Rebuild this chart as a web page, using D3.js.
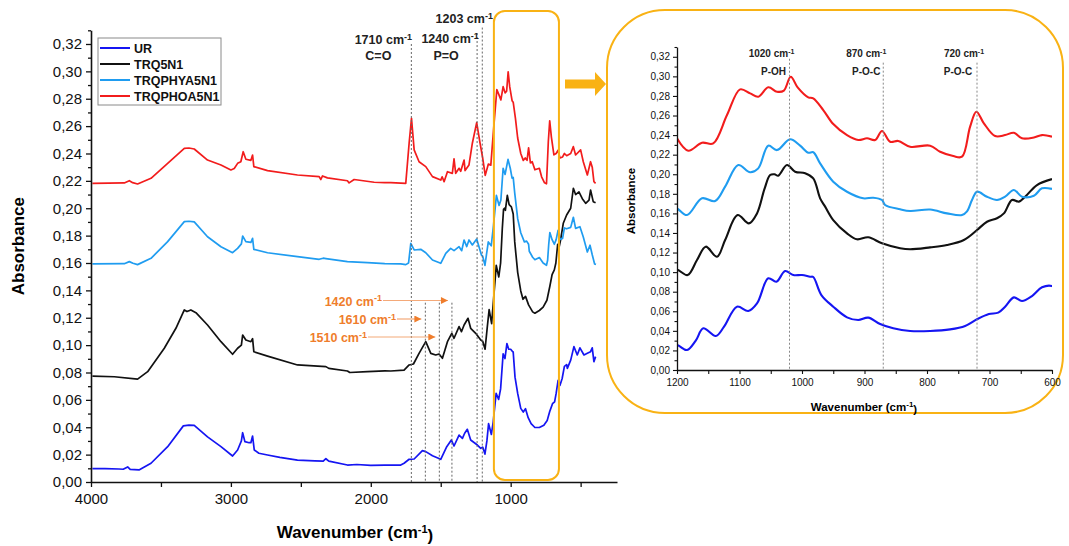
<!DOCTYPE html>
<html>
<head>
<meta charset="utf-8">
<script src="https://cdn.jsdelivr.net/npm/d3@7"></script>
<style>
  body { margin: 0; background: #fff; }
  svg text { font-family: Arial, "Liberation Sans", Helvetica, sans-serif; }
</style>
</head>
<body>
<svg id="chart" width="1069" height="546"></svg>
<script>
// ---- FTIR spectra: [wavenumber (cm-1), absorbance] ----
const seriesNames = ["UR", "TRQ5N1", "TRQPHYA5N1", "TRQPHOA5N1"];
const seriesColors = ["#1515f2", "#111111", "#1f9cf0", "#f21c1c"];

const urSpectrum = [
  [3990,0.0097],[3900,0.0097],[3800,0.0095],[3770,0.0093],[3738,0.011],[3720,0.0092],[3657,0.0088],
  [3571,0.0137],[3452,0.0258],[3340,0.0410],[3300,0.0416],[3262,0.0414],[3167,0.033],[3071,0.0258],
  [2988,0.019],[2952,0.0234],[2925,0.030],[2916,0.036],[2900,0.0295],[2870,0.0287],[2857,0.0287],
  [2845,0.0336],[2833,0.0234],[2800,0.021],[2738,0.0197],[2650,0.018],[2524,0.016],[2400,0.0155],
  [2340,0.0152],[2321,0.017],[2300,0.0152],[2167,0.0124],[2100,0.0128],[2000,0.0122],[1900,0.0124],
  [1786,0.0124],[1762,0.0137],[1726,0.0166],[1690,0.0168],[1631,0.0229],[1607,0.0222],[1559,0.0192],
  [1500,0.0166],[1457,0.0258],[1424,0.0307],[1405,0.0263],[1369,0.0343],[1345,0.0319],[1329,0.0356],
  [1310,0.0385],[1286,0.0307],[1238,0.027],[1214,0.0246],[1200,0.0255],[1184,0.0204],[1170,0.030],
  [1158,0.0426],[1138,0.0347],[1125,0.044],[1104,0.0647],[1086,0.0603],[1072,0.068],[1054,0.0937],
  [1041,0.0902],[1027,0.1011],[1014,0.097],[1000,0.097],[987,0.0953],[982,0.095],[969,0.0766],
  [950,0.0647],[928,0.0538],[910,0.0511],[894,0.0535],[875,0.047],[854,0.0426],[827,0.0398],
  [795,0.0398],[763,0.0415],[739,0.045],[720,0.0518],[701,0.0572],[686,0.0586],[675,0.0647],
  [661,0.0742],[648,0.0705],[632,0.0756],[616,0.0845],[600,0.0858],[595,0.083],[571,0.089],
  [548,0.0989],[524,0.0928],[505,0.098],[476,0.0928],[452,0.094],[429,0.0952],[417,0.098],
  [405,0.0879],[393,0.0916]
];

const trq5n1Spectrum = [
  [3990,0.0774],[3833,0.0769],[3667,0.0752],[3595,0.0806],[3476,0.0977],[3393,0.1123],[3333,0.1257],
  [3314,0.1245],[3286,0.1257],[3250,0.1237],[3167,0.1147],[3071,0.1025],[2988,0.0933],[2952,0.0977],
  [2925,0.1000],[2916,0.1074],[2893,0.1037],[2857,0.1025],[2845,0.1047],[2836,0.0952],[2738,0.092],
  [2524,0.0855],[2321,0.0843],[2300,0.083],[2167,0.0811],[2150,0.0800],[2024,0.0806],[1900,0.0812],
  [1857,0.0811],[1762,0.0818],[1726,0.0855],[1695,0.0862],[1655,0.094],[1607,0.1025],[1571,0.094],
  [1536,0.0928],[1512,0.0935],[1488,0.0904],[1452,0.1025],[1421,0.1086],[1405,0.1050],[1369,0.1135],
  [1352,0.1098],[1333,0.1147],[1305,0.1196],[1286,0.1123],[1250,0.1086],[1214,0.1037],[1200,0.1028],
  [1183,0.097],[1168,0.1124],[1154,0.126],[1136,0.1157],[1123,0.1328],[1103,0.1583],[1085,0.1498],
  [1072,0.160],[1060,0.185],[1051,0.1992],[1044,0.200],[1038,0.1985],[1024,0.2094],[1011,0.2026],
  [995,0.201],[982,0.1958],[971,0.1754],[963,0.1669],[950,0.1532],[928,0.1396],[912,0.1335],
  [894,0.1356],[872,0.1294],[843,0.1243],[827,0.1233],[795,0.1253],[768,0.1277],[741,0.1328],
  [720,0.143],[704,0.1515],[688,0.155],[677,0.160],[664,0.1737],[653,0.172],[643,0.177],[624,0.189],
  [600,0.1951],[571,0.200],[552,0.2146],[536,0.21],[512,0.212],[488,0.207],[464,0.2036],[440,0.206],
  [429,0.2133],[410,0.2048],[393,0.204]
];

const trqphya5n1Spectrum = [
  [3990,0.1593],[3762,0.1595],[3726,0.161],[3700,0.1598],[3667,0.1588],[3571,0.1634],[3452,0.1756],
  [3333,0.1902],[3300,0.1905],[3262,0.190],[3167,0.1792],[3071,0.1719],[2988,0.1675],[2952,0.1707],
  [2925,0.174],[2916,0.1797],[2893,0.1756],[2857,0.175],[2845,0.178],[2836,0.170],[2738,0.1675],
  [2524,0.1646],[2369,0.1627],[2340,0.1635],[2321,0.1632],[2167,0.161],[2024,0.1602],[1900,0.1595],
  [1786,0.1593],[1750,0.1588],[1730,0.1600],[1714,0.1744],[1690,0.1695],[1643,0.170],[1607,0.1675],
  [1559,0.1622],[1500,0.1598],[1464,0.167],[1429,0.1707],[1405,0.169],[1369,0.1719],[1350,0.169],
  [1333,0.1768],[1314,0.172],[1298,0.1768],[1274,0.1732],[1243,0.1775],[1209,0.1658],[1200,0.165],
  [1184,0.1583],[1160,0.1754],[1139,0.1726],[1123,0.1873],[1102,0.2094],[1083,0.202],[1070,0.206],
  [1054,0.2292],[1040,0.2247],[1019,0.2357],[1003,0.2292],[990,0.222],[982,0.2225],[971,0.2111],
  [950,0.1924],[928,0.1821],[902,0.1754],[886,0.176],[872,0.1737],[867,0.1686],[843,0.1642],
  [827,0.1624],[795,0.164],[768,0.160],[744,0.1583],[736,0.162],[728,0.1737],[720,0.1822],
  [704,0.177],[688,0.1737],[675,0.1771],[661,0.1839],[648,0.1771],[629,0.178],[616,0.1856],
  [600,0.185],[571,0.186],[552,0.1934],[536,0.1853],[505,0.1865],[481,0.179],[452,0.168],
  [433,0.173],[417,0.166],[400,0.1593],[390,0.159]
];

const trqphoa5n1Spectrum = [
  [3990,0.2182],[3762,0.2185],[3726,0.2201],[3702,0.2187],[3667,0.2177],[3571,0.2219],[3452,0.2328],
  [3333,0.2438],[3300,0.2440],[3262,0.2433],[3167,0.2352],[3071,0.2316],[3000,0.228],[2976,0.2290],
  [2952,0.2328],[2929,0.2340],[2912,0.2413],[2893,0.2358],[2857,0.2350],[2845,0.2389],[2836,0.2304],
  [2738,0.2275],[2524,0.2243],[2369,0.2231],[2357,0.2210],[2345,0.2236],[2310,0.2222],[2167,0.2201],
  [2155,0.2185],[2119,0.2210],[1976,0.219],[1900,0.2187],[1857,0.2187],[1750,0.2182],[1726,0.2475],
  [1709,0.2657],[1690,0.2426],[1655,0.234],[1607,0.2304],[1559,0.2231],[1500,0.2206],[1490,0.2230],
  [1476,0.2194],[1452,0.2267],[1417,0.2255],[1405,0.236],[1393,0.2255],[1369,0.2292],[1357,0.2270],
  [1333,0.2352],[1326,0.2275],[1298,0.2316],[1274,0.2475],[1243,0.2625],[1219,0.2475],[1200,0.2367],
  [1182,0.224],[1160,0.2322],[1142,0.2315],[1120,0.2605],[1099,0.2867],[1083,0.2826],[1070,0.2792],
  [1054,0.2888],[1040,0.2843],[1029,0.2855],[1018,0.2996],[1007,0.2888],[990,0.2786],[982,0.2775],
  [966,0.2656],[950,0.2513],[928,0.240],[910,0.235],[896,0.2367],[883,0.2350],[872,0.2442],
  [859,0.2332],[846,0.2340],[827,0.2281],[795,0.2292],[779,0.223],[758,0.2186],[744,0.2179],
  [731,0.2486],[721,0.2639],[709,0.252],[691,0.239],[675,0.240],[661,0.2424],[648,0.2367],
  [629,0.2375],[616,0.240],[600,0.2384],[571,0.240],[552,0.245],[536,0.2389],[500,0.2426],
  [481,0.234],[452,0.2243],[429,0.234],[417,0.230],[405,0.2194],[393,0.2182]
];

// ---- axis ticks ----
const absorbanceTicks = [0,0.02,0.04,0.06,0.08,0.10,0.12,0.14,0.16,0.18,0.20,0.22,0.24,0.26,0.28,0.30,0.32];
const mainWaveTicks = [4000,3500,3000,2500,2000,1500,1000,500];
const mainWaveLabels = [4000,3000,2000,1000];
const insetWaveTicks = [1200,1150,1100,1050,1000,950,900,850,800,750,700,650,600];
const insetWaveLabels = [1200,1100,1000,900,800,700,600];

// ---- band assignments ----
const mainBands = [1710, 1240, 1203];
const mainBandGroups = ["C=O", "P=O", ""];
const fingerprintBands = [1420, 1610, 1510];
const insetBands = [1020, 870, 720];
const insetBandGroups = ["P-OH", "P-O-C", "P-O-C"];

const allSpectra = [urSpectrum, trq5n1Spectrum, trqphya5n1Spectrum, trqphoa5n1Spectrum];

// ------------------------------------------------------------------
const svg = d3.select("#chart");
const fmt = d3.formatLocale({decimal: ",", thousands: ".", grouping: [3], currency: ["", ""]}).format(".2f");
const ORANGE = "#f9b214";
const ANNOT = "#ef7d2c";

function cmLabel(sel, value, supSize) {
  sel.text(value + " cm");
  sel.append("tspan").attr("dy", "-0.45em").attr("font-size", supSize).text("-1");
}

// ====================== main panel ======================
const x = d3.scaleLinear().domain([4000, 240]).range([91, 617]);
const y = d3.scaleLinear().domain([0, 0.33]).range([482, 30.3]);

const main = svg.append("g");

// spectra
const line = d3.line().x(d => x(d[0])).y(d => y(d[1]));
allSpectra.forEach((s, i) => {
  main.append("path").attr("d", line(s)).attr("fill", "none")
    .attr("stroke", seriesColors[i]).attr("stroke-width", 1.7).attr("stroke-linejoin", "round");
});

// dotted band markers
const bandTops = {1710: 0.32, 1240: 0.328, 1203: 0.332};
mainBands.forEach(b => {
  main.append("line").attr("x1", x(b)).attr("x2", x(b)).attr("y1", y(bandTops[b])).attr("y2", y(0))
    .attr("stroke", "#666").attr("stroke-width", 1).attr("stroke-dasharray", "2,2");
});
fingerprintBands.forEach(b => {
  main.append("line").attr("x1", x(b)).attr("x2", x(b)).attr("y1", y(0.131)).attr("y2", y(0))
    .attr("stroke", "#666").attr("stroke-width", 1).attr("stroke-dasharray", "2,2");
});

// band labels
const bandLabelOffset = {1710: [-28, 44, -33, 60], 1240: [-27, 43, -31, 60], 1203: [-18, 23, 0, 0]};
mainBands.forEach((b, i) => {
  const o = bandLabelOffset[b];
  const t = main.append("text").attr("x", x(b) + o[0]).attr("y", o[1]).attr("text-anchor", "middle")
    .attr("font-size", 12.5).attr("font-weight", "bold").attr("fill", "#222");
  cmLabel(t, b, 9);
  if (mainBandGroups[i]) {
    main.append("text").attr("x", x(b) + o[2]).attr("y", o[3]).attr("text-anchor", "middle")
      .attr("font-size", 12.5).attr("font-weight", "bold").attr("fill", "#222").text(mainBandGroups[i]);
  }
});

// orange arrows pointing at fingerprint bands
const defs = svg.append("defs");
defs.append("marker").attr("id", "tri").attr("viewBox", "0 0 10 10").attr("refX", 10).attr("refY", 5)
  .attr("markerWidth", 10).attr("markerHeight", 7).attr("markerUnits", "userSpaceOnUse").attr("orient", "auto")
  .append("path").attr("d", "M0,0 L10,5 L0,10 Z").attr("fill", ANNOT);
const arrowRows = {1420: [300.5, 383], 1610: [319, 397], 1510: [337, 368]};
fingerprintBands.forEach(b => {
  const r = arrowRows[b];
  main.append("line").attr("x1", r[1]).attr("x2", x(b) - 4).attr("y1", r[0]).attr("y2", r[0])
    .attr("stroke", "#f4a979").attr("stroke-width", 1.2).attr("marker-end", "url(#tri)");
  const t = main.append("text").attr("x", r[1] - 1).attr("y", r[0] + 5).attr("text-anchor", "end")
    .attr("font-size", 12.5).attr("font-weight", "bold").attr("fill", ANNOT);
  cmLabel(t, b, 9);
});

// axes
const yAxis = d3.axisLeft(y).tickValues(absorbanceTicks).tickFormat(fmt).tickSize(5).tickSizeOuter(0).tickPadding(4);
const yMinor = d3.axisLeft(y).tickValues(absorbanceTicks.map(v => v + 0.01)).tickFormat("").tickSize(3).tickSizeOuter(0);
const xAxis = d3.axisBottom(x).tickValues(mainWaveTicks)
  .tickFormat(d => mainWaveLabels.includes(d) ? d : "").tickSize(5).tickSizeOuter(0).tickPadding(6);

const gy = main.append("g").attr("transform", `translate(${x(4000)},0)`).call(yAxis);
main.append("g").attr("transform", `translate(${x(4000)},0)`).call(yMinor).select(".domain").remove();
const gx = main.append("g").attr("transform", `translate(0,${y(0)})`).call(xAxis);
[gx, gy].forEach(g => {
  g.select(".domain").attr("stroke-width", 1.6).attr("stroke", "#111");
  g.selectAll(".tick line").attr("stroke-width", 1.3).attr("stroke", "#111");
  g.selectAll(".tick text").attr("font-size", 15).attr("fill", "#111");
});
main.selectAll(".tick line").attr("stroke", "#111").attr("stroke-width", 1.3);

main.append("text").attr("transform", `translate(23.5,${(y(0) + y(0.33)) / 2 - 10}) rotate(-90)`)
  .attr("text-anchor", "middle").attr("font-size", 17).attr("font-weight", "bold").text("Absorbance");
const xt = main.append("text").attr("x", 355).attr("y", 538).attr("text-anchor", "middle")
  .attr("font-size", 17).attr("font-weight", "bold").text("Wavenumber (cm");
xt.append("tspan").attr("dy", "-0.45em").attr("font-size", 11).text("-1");
xt.append("tspan").attr("dy", "0.45em").text(")");

// legend
const lg = main.append("g");
lg.append("rect").attr("x", 98).attr("y", 38).attr("width", 123).attr("height", 67)
  .attr("fill", "#fff").attr("stroke", "#8a8a8a").attr("stroke-width", 1);
seriesNames.forEach((n, i) => {
  const yy = 48 + i * 16;
  lg.append("line").attr("x1", 100).attr("x2", 130).attr("y1", yy).attr("y2", yy)
    .attr("stroke", seriesColors[i]).attr("stroke-width", 2);
  lg.append("text").attr("x", 134).attr("y", yy + 4.5).attr("font-size", 12.5)
    .attr("font-weight", "bold").attr("fill", "#111").text(n);
});

// highlighted zoom window and pointer
main.append("rect").attr("x", x(1120)).attr("y", 11).attr("width", x(655) - x(1120)).attr("height", 469)
  .attr("rx", 11).attr("fill", "none").attr("stroke", ORANGE).attr("stroke-width", 2);
svg.append("path").attr("d", "M565,79.5 L595,79.5 L595,72 L606,84 L595,96 L595,88.5 L565,88.5 Z")
  .attr("fill", ORANGE);

// ====================== inset panel ======================
svg.append("rect").attr("x", 607).attr("y", 10).attr("width", 456).attr("height", 403).attr("rx", 58)
  .attr("fill", "none").attr("stroke", ORANGE).attr("stroke-width", 2);

const xi = d3.scaleLinear().domain([1200, 600]).range([677, 1052]);
const yi = d3.scaleLinear().domain([0, 0.33]).range([370, 47]);
const inset = svg.append("g");
defs.append("clipPath").attr("id", "insetClip").append("rect")
  .attr("x", xi(1200)).attr("y", yi(0.33)).attr("width", xi(600) - xi(1200)).attr("height", yi(0) - yi(0.33));

const iline = d3.line().x(d => xi(d[0])).y(d => yi(d[1])).curve(d3.curveCatmullRom.alpha(0.5));
const plotArea = inset.append("g").attr("clip-path", "url(#insetClip)");
allSpectra.forEach((s, i) => {
  const part = s.filter(d => d[0] <= 1215 && d[0] >= 590);
  plotArea.append("path").attr("d", iline(part)).attr("fill", "none")
    .attr("stroke", seriesColors[i]).attr("stroke-width", 2.1).attr("stroke-linejoin", "round");
});

const insetTops = {1020: 0.318, 870: 0.314, 720: 0.314};
insetBands.forEach(b => {
  inset.append("line").attr("x1", xi(b)).attr("x2", xi(b)).attr("y1", yi(insetTops[b])).attr("y2", yi(0))
    .attr("stroke", "#888").attr("stroke-width", 1).attr("stroke-dasharray", "2,2");
});
const insetLabelOffset = {1020: [-18, -16], 870: [-17, -17], 720: [-13, -19]};
insetBands.forEach((b, i) => {
  const o = insetLabelOffset[b];
  const t = inset.append("text").attr("x", xi(b) + o[0]).attr("y", 57).attr("text-anchor", "middle")
    .attr("font-size", 10).attr("font-weight", "bold").attr("fill", "#222");
  cmLabel(t, b, 7);
  inset.append("text").attr("x", xi(b) + o[1]).attr("y", 74.5).attr("text-anchor", "middle")
    .attr("font-size", 10).attr("font-weight", "bold").attr("fill", "#222").text(insetBandGroups[i]);
});

const yiAxis = d3.axisLeft(yi).tickValues(absorbanceTicks).tickFormat(fmt).tickSize(4).tickSizeOuter(0).tickPadding(3);
const yiMinor = d3.axisLeft(yi).tickValues(absorbanceTicks.map(v => v + 0.01)).tickFormat("").tickSize(2.5).tickSizeOuter(0);
const xiAxis = d3.axisBottom(xi).tickValues(insetWaveTicks)
  .tickFormat(d => insetWaveLabels.includes(d) ? d : "").tickSize(4).tickSizeOuter(0).tickPadding(5);
const giy = inset.append("g").attr("transform", `translate(${xi(1200)},0)`).call(yiAxis);
inset.append("g").attr("transform", `translate(${xi(1200)},0)`).call(yiMinor).select(".domain").remove();
const gix = inset.append("g").attr("transform", `translate(0,${yi(0)})`).call(xiAxis);
[gix, giy].forEach(g => {
  g.select(".domain").attr("stroke-width", 1.3).attr("stroke", "#111");
  g.selectAll(".tick text").attr("font-size", 10).attr("fill", "#111");
});
inset.selectAll(".tick line").attr("stroke", "#111").attr("stroke-width", 1.1);

inset.append("text").attr("transform", `translate(634.5,201) rotate(-90)`).attr("text-anchor", "middle")
  .attr("font-size", 11.5).attr("font-weight", "bold").text("Absorbance");
const xit = inset.append("text").attr("x", 864).attr("y", 411).attr("text-anchor", "middle")
  .attr("font-size", 11.5).attr("font-weight", "bold").text("Wavenumber (cm");
xit.append("tspan").attr("dy", "-0.45em").attr("font-size", 8).text("-1");
xit.append("tspan").attr("dy", "0.45em").text(")");
</script>
</body>
</html>
